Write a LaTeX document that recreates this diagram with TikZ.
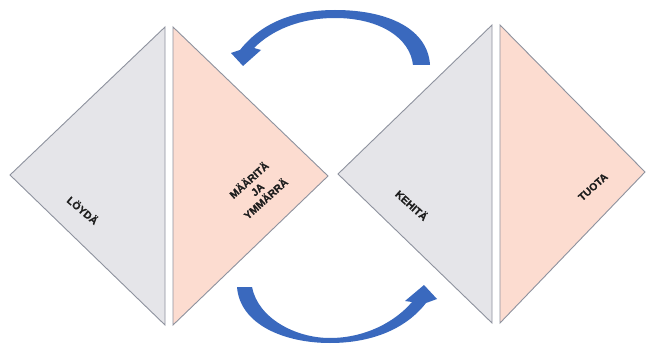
\documentclass[tikz,border=0pt]{standalone}
\usepackage{fontspec}
\setmainfont{Liberation Sans}
\newfontfamily\heavyfont{Liberation Sans}[BoldFeatures={FakeBold=0.6}]
\definecolor{grayfill}{HTML}{E5E5E9}
\definecolor{pinkfill}{HTML}{FCDCD0}
\definecolor{edgecol}{HTML}{8E929E}
\definecolor{arrowblue}{HTML}{3A69BE}
\definecolor{txt}{HTML}{1E1E1E}
\begin{document}
\begin{tikzpicture}[x=1pt,y=-1pt,
  tri/.style={draw=edgecol,line width=0.9pt,line join=miter},
  graytri/.style={tri,fill=grayfill},
  pinktri/.style={tri,fill=pinkfill},
  lbl/.style={font=\heavyfont\fontsize{10.5}{12.5}\selectfont\bfseries,text=txt,align=center,inner sep=0pt},
  bluearrow/.style={fill=arrowblue,draw=none}]
\useasboundingbox (0,0) rectangle (646,345);
\fill[white] (0,0) rectangle (646,345);
% triangles
\draw[graytri] (165,27) -- (165,325) -- (10,175) -- cycle;
\draw[pinktri] (173,27) -- (173,325) -- (328,176) -- cycle;
\draw[graytri] (492,25) -- (492,323) -- (338,174) -- cycle;
\draw[pinktri] (500,25) -- (500,323) -- (645,172) -- cycle;
% labels
\node[lbl,rotate=-40] (loyda) at (83,210) {LÖYDÄ};
\node[lbl,rotate=42] (maarita) at (257,189) {MÄÄRITÄ\\JA\\YMMÄRRÄ};
\node[lbl,rotate=-42] (kehita) at (412,205) {KEHITÄ};
\node[lbl,rotate=42] (tuota) at (593,187) {TUOTA};
% top arrow
\fill[bluearrow] (430,65) -- (413,65)
  .. controls (410,38) and (380,18) .. (335,18)
  .. controls (300,18) and (272,30) .. (254,48)
  -- (261,50) -- (243,66) -- (231,53) -- (240,50)
  .. controls (262,22) and (295,10) .. (335,10)
  .. controls (390,10) and (428,30) .. (430,65) -- cycle;
% bottom arrow
\fill[bluearrow] (237,287) -- (252,287)
  .. controls (258,318) and (295,338) .. (330,338)
  .. controls (365,338) and (395,322) .. (412,302)
  -- (405,301) -- (424,285) -- (437,299) -- (426,303)
  .. controls (405,330) and (370,343) .. (330,343)
  .. controls (285,343) and (240,325) .. (237,287) -- cycle;
\end{tikzpicture}
\end{document}
